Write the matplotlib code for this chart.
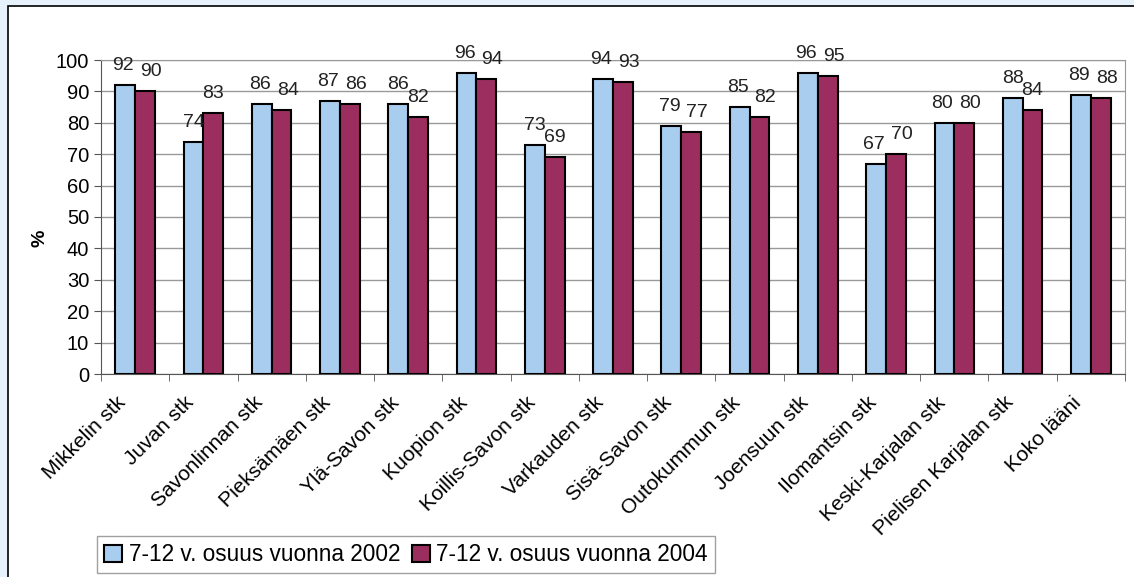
import matplotlib.pyplot as plt
import matplotlib.transforms as mtransforms
import numpy as np
from matplotlib.patches import Rectangle

categories = ['Mikkelin stk', 'Juvan stk', 'Savonlinnan stk', 'Pieksämäen stk',
              'Ylä-Savon stk', 'Kuopion stk', 'Koillis-Savon stk', 'Varkauden stk',
              'Sisä-Savon stk', 'Outokummun stk', 'Joensuun stk', 'Ilomantsin stk',
              'Keski-Karjalan stk', 'Pielisen Karjalan stk', 'Koko lääni']
share_2002 = [92, 74, 86, 87, 86, 96, 73, 94, 79, 85, 96, 67, 80, 88, 89]
share_2004 = [90, 83, 84, 86, 82, 94, 69, 93, 77, 82, 95, 70, 80, 84, 88]
series_names = ['7-12 v. osuus vuonna 2002', '7-12 v. osuus vuonna 2004']

W, H = 1134, 577
fig = plt.figure(figsize=(W / 100, H / 100), dpi=100)
fig.patch.set_facecolor('#e6f1fb')
# white panel with black border (right side runs off the picture)
fig.patches.append(Rectangle((8 / W, -0.01), 1.05, (H - 6) / H + 0.01,
                             transform=fig.transFigure, facecolor='white',
                             edgecolor='black', linewidth=1.2, zorder=-5))

ax = fig.add_axes([101 / W, (H - 374) / H, (1125 - 101) / W, (374 - 60) / H])
ax.set_facecolor('white')

x = np.arange(len(categories))
w = 0.29
b1 = ax.bar(x - w / 2, share_2002, w, color='#a8cdee', edgecolor='black',
            linewidth=1.5, label=series_names[0], zorder=3)
b2 = ax.bar(x + w / 2, share_2004, w, color='#9c2e5f', edgecolor='black',
            linewidth=1.5, label=series_names[1], zorder=3)

# value labels, nudged apart when the two bars are about the same height
for r1, r2, v1, v2 in zip(b1, b2, share_2002, share_2004):
    close = abs(v1 - v2) < 4
    for r, v, dx in ((r1, v1, -2 if close else 0), (r2, v2, 6 if close else 0)):
        off = mtransforms.ScaledTranslation(dx / 100, 0, fig.dpi_scale_trans)
        ax.text(r.get_x() + r.get_width() / 2, v + 3.5, str(v), ha='center',
                va='bottom', fontsize=14, family='Liberation Sans', color='#222222',
                transform=ax.transData + off)

ax.set_xlim(-0.5, len(categories) - 0.5)
ax.set_ylim(0, 100)
ax.set_yticks(range(0, 101, 10))
ax.yaxis.grid(True, color='#999999', linewidth=1, zorder=0)
for s in ax.spines.values():
    s.set_color('#999999')
ax.spines['left'].set_color('#555555')
ax.spines['bottom'].set_color('#555555')
ax.tick_params(axis='y', labelsize=14.5, length=5, color='#555555')
ax.set_xticks(x)
ax.set_xticks(np.arange(len(categories) + 1) - 0.5, minor=True)
ax.tick_params(axis='x', which='major', length=0)
ax.tick_params(axis='x', which='minor', length=5, color='#555555', direction='out')
ax.set_xticklabels(categories, rotation=45, ha='right', rotation_mode='anchor',
                   fontsize=15, family='Liberation Sans')
shift = mtransforms.ScaledTranslation(-19 / 100, -14 / 100, fig.dpi_scale_trans)
for lab in ax.get_xticklabels():
    lab.set_transform(lab.get_transform() + shift)
for lab in ax.get_yticklabels():
    lab.set_family('Liberation Sans')
ax.set_ylabel('%', fontsize=14, fontweight='bold', family='Liberation Sans')
ax.yaxis.set_label_coords(-0.051, 0.433)

leg = fig.legend(handles=[b1, b2], loc='lower left',
                 bbox_to_anchor=(97 / W, (H - 573) / H), ncol=2, borderaxespad=0,
                 frameon=True, fancybox=False, handlelength=0.8,
                 handleheight=0.8, handletextpad=0.3, columnspacing=0.5,
                 borderpad=0.3, prop={'family': 'Liberation Sans', 'size': 16.3})
leg.get_frame().set_edgecolor('#888888')
leg.get_frame().set_linewidth(1)

fig.savefig('out.png', dpi=100, facecolor=fig.get_facecolor())
